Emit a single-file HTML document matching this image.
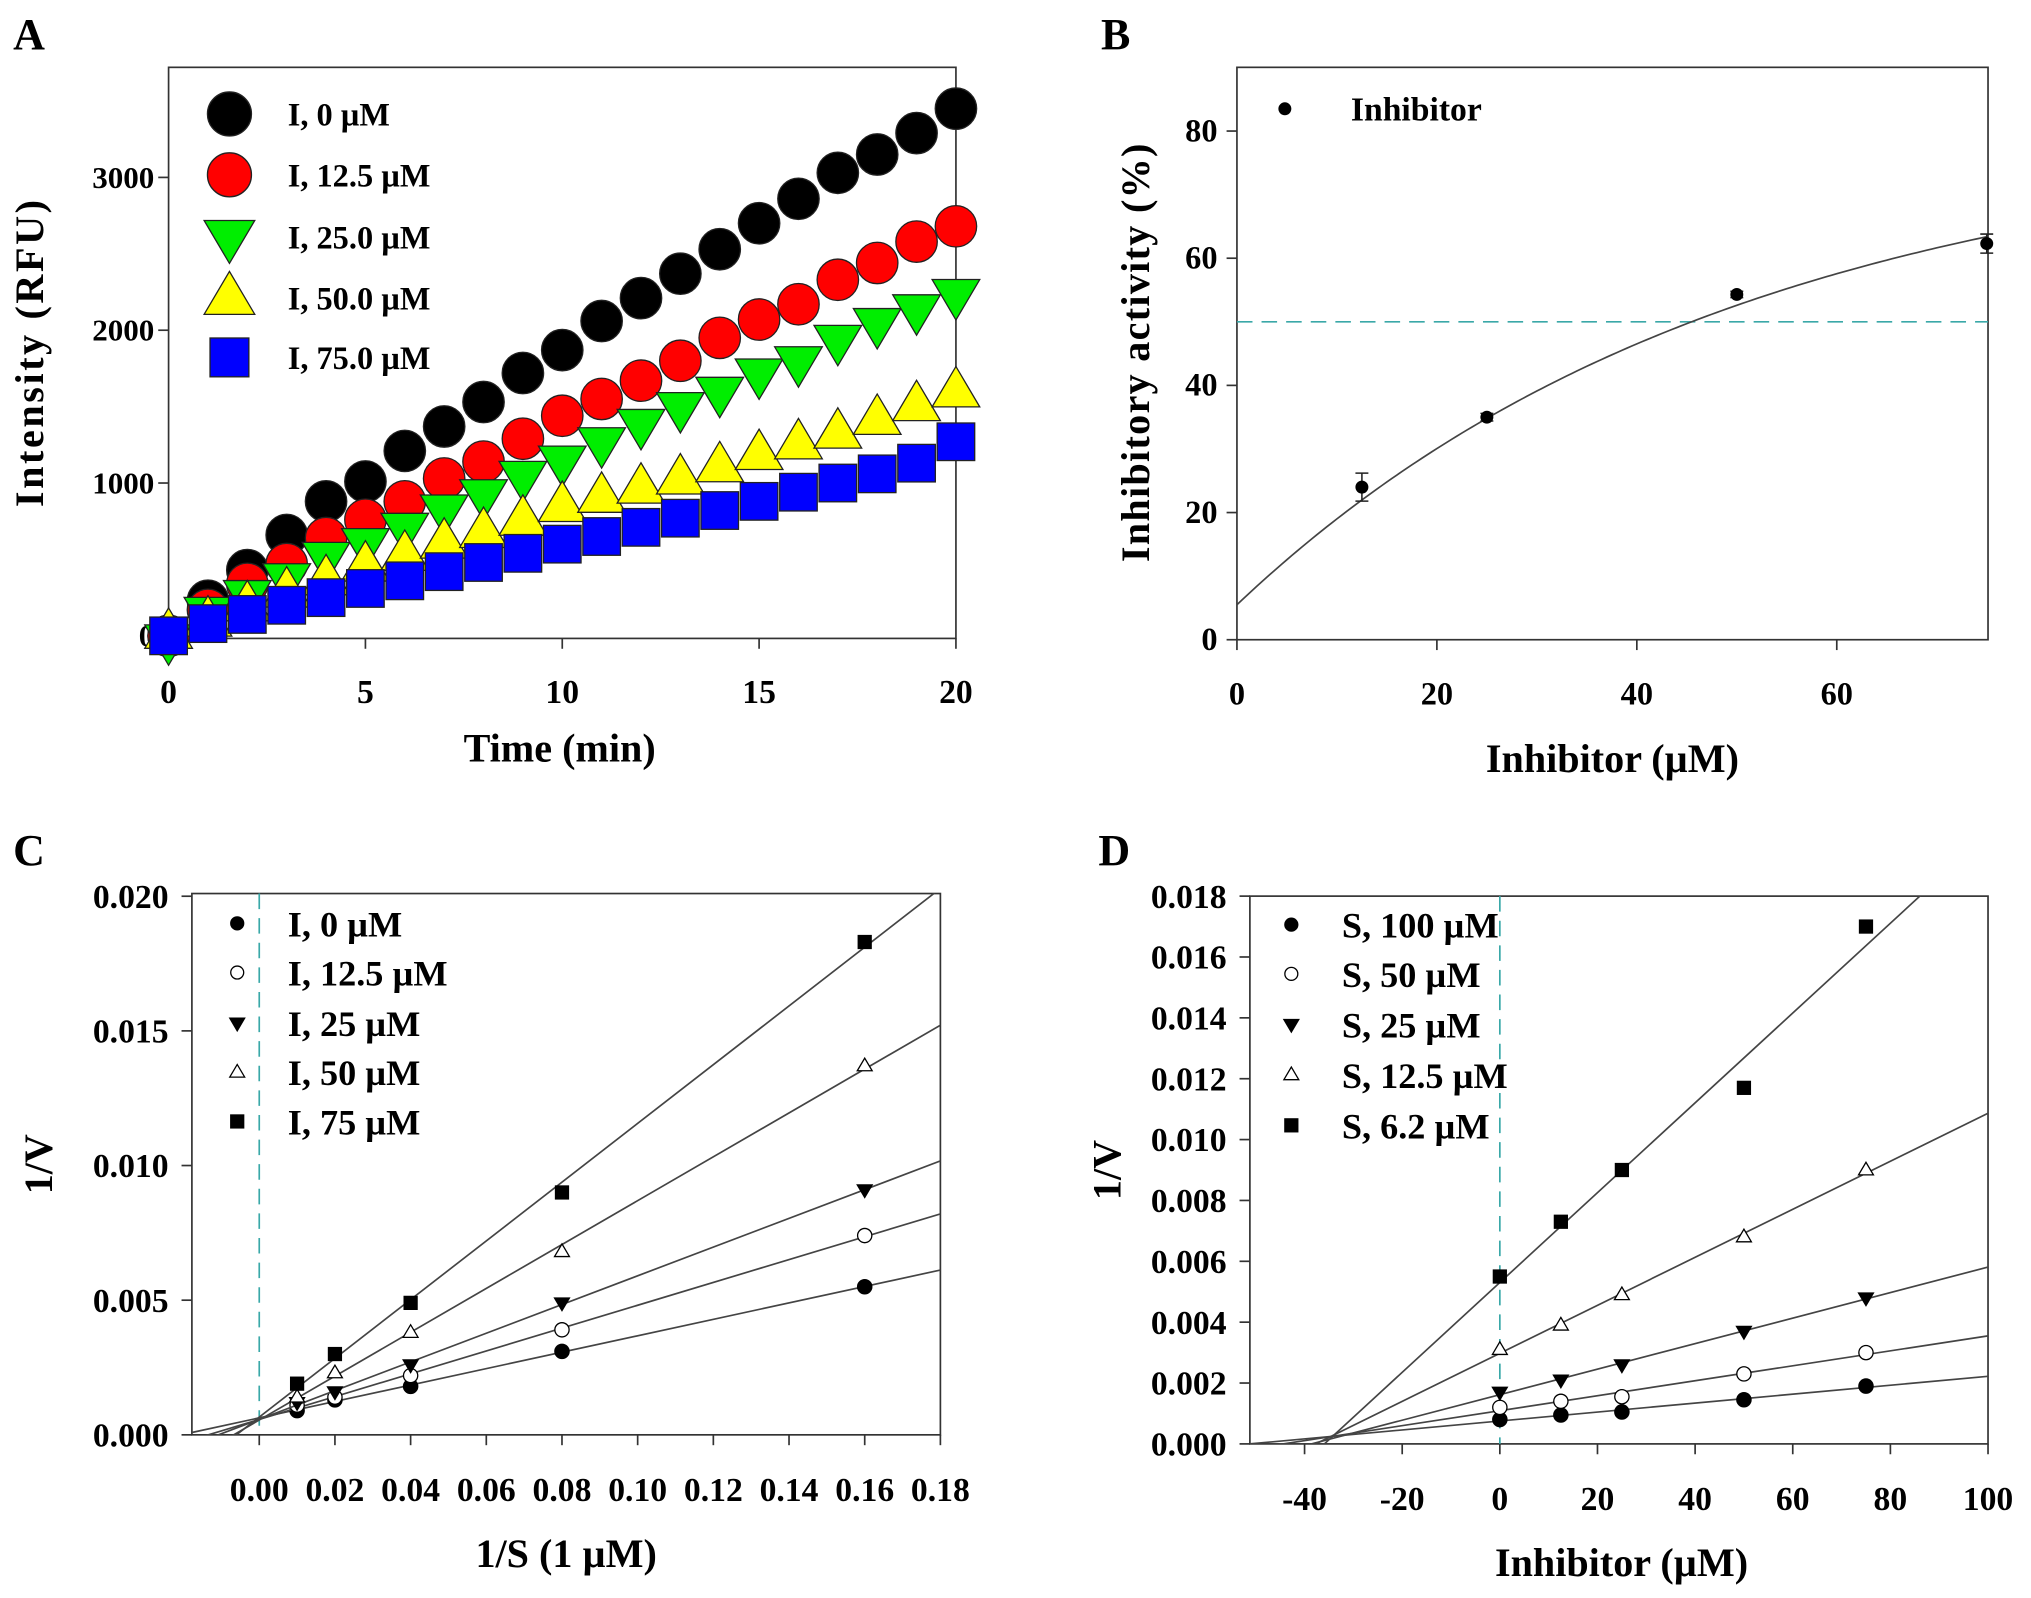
<!DOCTYPE html>
<html><head><meta charset="utf-8"><title>Enzyme inhibition kinetics</title>
<style>
html,body{margin:0;padding:0;background:#fff;}
svg{display:block;}
text{font-family:"Liberation Serif",serif;font-weight:bold;fill:#000;}
</style></head>
<body>
<svg id="fig" width="2031" height="1598" viewBox="0 0 1568 1234" xmlns="http://www.w3.org/2000/svg"></svg>
<script>
// ---------- Panel A data ----------
const aTimes = [0,1,2,3,4,5,6,7,8,9,10,11,12,13,14,15,16,17,18,19,20];
const aI0   = [0,230,430,660,880,1010,1210,1370,1530,1720,1870,2060,2210,2370,2530,2700,2860,3030,3150,3290,3450];
const aI125 = [0,170,340,470,640,760,880,1030,1140,1290,1440,1550,1670,1800,1950,2070,2170,2330,2440,2580,2680];
const aI25  = [-30,150,260,370,510,600,700,820,920,1040,1140,1260,1380,1490,1590,1710,1790,1930,2040,2130,2230];
const aI50  = [20,100,200,290,370,460,530,610,680,760,850,910,970,1030,1110,1190,1260,1330,1420,1510,1600];
const aI75  = [0,80,140,200,250,310,360,420,480,540,600,650,710,770,820,880,940,1000,1060,1130,1270];
const aLabels = ["I, 0 µM","I, 12.5 µM","I, 25.0 µM","I, 50.0 µM","I, 75.0 µM"];
const aXTicks = [0,5,10,15,20];
const aYTicks = [0,1000,2000,3000];
// ---------- Panel B data ----------
const bConc = [12.5,25,50,75];
const bAct  = [24,35,54.3,62.3];
const bErr  = [2.2,0.6,0.5,1.5];
const bFit  = [80,74.5,0.02]; // a - b*exp(-k x)
const bHalf = [50];
const bXTicks = [0,20,40,60];
const bYTicks = [0,20,40,60,80];
// ---------- Panel C data ----------
const cX = [0.01,0.02,0.04,0.08,0.16];
const cI0   = [0.0009,0.0013,0.0018,0.0031,0.0055];
const cI125 = [0.0011,0.0014,0.0022,0.0039,0.0074];
const cI25  = [0.0012,0.0016,0.0026,0.0049,0.0091];
const cI50  = [0.0014,0.0023,0.0038,0.0068,0.0137];
const cI75  = [0.0019,0.0030,0.0049,0.0090,0.0183];
const cLabels = ["I, 0 µM","I, 12.5 µM","I, 25 µM","I, 50 µM","I, 75 µM"];
const cXTicks = ["0.00","0.02","0.04","0.06","0.08","0.10","0.12","0.14","0.16","0.18"];
const cYTicks = ["0.000","0.005","0.010","0.015","0.020"];
// ---------- Panel D data ----------
const dX = [0,12.5,25,50,75];
const dS100 = [0.0008,0.00095,0.00105,0.00145,0.0019];
const dS50  = [0.0012,0.0014,0.00155,0.0023,0.0030];
const dS25  = [0.0017,0.0021,0.0026,0.0037,0.0048];
const dS125 = [0.0031,0.0039,0.0049,0.0068,0.0090];
const dS62  = [0.0055,0.0073,0.0090,0.0117,0.0170];
const dLabels = ["S, 100 µM","S, 50 µM","S, 25 µM","S, 12.5 µM","S, 6.2 µM"];
const dXTicks = ["-40","-20","0","20","40","60","80","100"];
const dYTicks = ["0.000","0.002","0.004","0.006","0.008","0.010","0.012","0.014","0.016","0.018"];

const NS="http://www.w3.org/2000/svg";
const svg=document.getElementById('fig');
function mk(tag,attrs,parent){const e=document.createElementNS(NS,tag);for(const k in attrs)e.setAttribute(k,attrs[k]);(parent||svg).appendChild(e);return e;}
function txt(s,x,y,size,anchor,parent){const t=mk('text',{x:x,y:y,'font-size':size,'text-anchor':anchor||'start'},parent);t.textContent=s;return t;}
function linfit(xs,ys){const n=xs.length;let sx=0,sy=0,sxx=0,sxy=0;for(let i=0;i<n;i++){sx+=xs[i];sy+=ys[i];sxx+=xs[i]*xs[i];sxy+=xs[i]*ys[i];}const m=(n*sxy-sx*sy)/(n*sxx-sx*sx);return [m,(sy-m*sx)/n];}
function marker(g,shape,cx,cy,r,fill,stroke,sw){
  let e;
  if(shape==='circle') e=mk('circle',{cx:cx,cy:cy,r:r,fill:fill,stroke:stroke,'stroke-width':sw},g);
  else if(shape==='square') e=mk('rect',{x:cx-r,y:cy-r,width:2*r,height:2*r,fill:fill,stroke:stroke,'stroke-width':sw},g);
  else if(shape==='down') e=mk('polygon',{points:`${cx-r*1.15},${cy-r*0.75} ${cx+r*1.15},${cy-r*0.75} ${cx},${cy+r*1.2}`,fill:fill,stroke:stroke,'stroke-width':sw},g);
  else e=mk('polygon',{points:`${cx-r*1.15},${cy+r*0.75} ${cx+r*1.15},${cy+r*0.75} ${cx},${cy-r*1.2}`,fill:fill,stroke:stroke,'stroke-width':sw},g);
  return e;
}

// ================= Panel A =================
(function(){
  const g=mk('g',{});
  
  
  const X=v=>130+v*(608/20), Y=v=>491-v*0.118;
  const L=txt('A',10,38,34,'start',g);
  
  
  const box=mk('rect',{x:130,y:52,width:608,height:441,fill:'none',stroke:'#333','stroke-width':1.3},g);
  
  
  aXTicks.forEach(t=>{mk('line',{x1:X(t),x2:X(t),y1:493,y2:501,stroke:'#333','stroke-width':1.3},g);
    const e=txt(String(t),X(t),543,26,'middle',g);
    
    });
  aYTicks.forEach(t=>{mk('line',{x1:130,x2:122,y1:Y(t),y2:Y(t),stroke:'#333','stroke-width':1.3},g);
    const e=txt(String(t),119,Y(t)+8,24,'end',g);
    
    });
  const xt=txt('Time (min)',432,588,31,'middle',g);
  
  
  const yt=txt('Intensity (RFU)',0,0,31,'middle',g);
  yt.setAttribute('transform','translate(33,272) rotate(-90)');
  yt.setAttribute('letter-spacing','2');
  
  
  [[aI0,'circle','#000'],[aI125,'circle','#ff0000'],[aI25,'down','#00ee00'],[aI50,'up','#ffff00'],[aI75,'square','#0000ff']].forEach((s,si)=>{
    const sg=mk('g',{},g);
    
    
    aTimes.forEach((t,i)=>{const m=marker(sg,s[1],X(t),Y(s[0][i]),s[1]==='square'?14.5:16,s[2],'#222',1);
      
      });
  });
  const ly=[88,135,183,230,276];
  [['circle','#000'],['circle','#ff0000'],['down','#00ee00'],['up','#ffff00'],['square','#0000ff']].forEach((s,i)=>{
    const lg=mk('g',{},g);
    
    
    marker(lg,s[0],177,ly[i],s[0]==='square'?15:17,s[1],'#222',1);
    txt(aLabels[i],222,ly[i]+9,25,'start',lg);
  });
})();

// ================= Panel B =================
(function(){
  const g=mk('g',{});
  
  
  const X=v=>955+v*7.72, Y=v=>494-v*4.91;
  const L=txt('B',850,38,34,'start',g);
  
  
  const box=mk('rect',{x:955,y:52,width:580,height:442,fill:'none',stroke:'#333','stroke-width':1.3},g);
  
  
  bXTicks.forEach(t=>{mk('line',{x1:X(t),x2:X(t),y1:494,y2:502,stroke:'#333','stroke-width':1.3},g);
    const e=txt(String(t),X(t),544,25,'middle',g);
    
    });
  bYTicks.forEach(t=>{mk('line',{x1:955,x2:947,y1:Y(t),y2:Y(t),stroke:'#333','stroke-width':1.3},g);
    const e=txt(String(t),940,Y(t)+8,25,'end',g);
    
    });
  const xt=txt('Inhibitor (µM)',1245,596,31,'middle',g);
  
  
  const yt=txt('Inhibitory activity (%)',0,0,31,'middle',g);
  yt.setAttribute('transform','translate(887,272) rotate(-90)');
  yt.setAttribute('letter-spacing','1');
  
  
  const hl=mk('line',{x1:955,x2:1535,y1:Y(bHalf[0]),y2:Y(bHalf[0]),stroke:'#3aa8a8','stroke-width':1.3,'stroke-dasharray':'12,7'},g);
  
  
  let d='';for(let v=0;v<=75;v+=0.5){const y=bFit[0]-bFit[1]*Math.exp(-bFit[2]*v);d+=(v?'L':'M')+X(v).toFixed(2)+','+Y(y).toFixed(2);}
  const fc=mk('path',{d:d,fill:'none',stroke:'#444','stroke-width':1.3},g);
  
  
  bConc.forEach((c,i)=>{
    const eb=mk('path',{d:`M${X(c)},${Y(bAct[i]-bErr[i])}V${Y(bAct[i]+bErr[i])}M${X(c)-5},${Y(bAct[i]-bErr[i])}h10M${X(c)-5},${Y(bAct[i]+bErr[i])}h10`,stroke:'#222','stroke-width':1.2,fill:'none'},g);
    
    
    const p=mk('circle',{cx:X(c),cy:Y(bAct[i]),r:5,fill:'#000'},g);
    
    
  });
  const lg=mk('g',{},g);
  
  
  mk('circle',{cx:992,cy:84,r:5,fill:'#000'},lg);
  txt('Inhibitor',1043,93,26,'start',lg);
})();

// ============ Lineweaver-type panels ============
function linePanel(o){
  const g=mk('g',{});
  
  
  const L=txt(o.letter,o.lx,668,34,'start',g);
  
  
  const X=v=>o.x0+(v-o.xmin)/(o.xmax-o.xmin)*(o.x1-o.x0), Y=v=>o.y0-(v-o.ymin)/(o.ymax-o.ymin)*(o.y0-o.y1);
  const cid=o.name+'-clip';
  const cp=mk('clipPath',{id:cid},g);mk('rect',{x:o.x0,y:o.y1,width:o.x1-o.x0,height:o.y0-o.y1},cp);
  const box=mk('rect',{x:o.x0,y:o.y1,width:o.x1-o.x0,height:o.y0-o.y1,fill:'none',stroke:'#333','stroke-width':1.3},g);
  
  
  o.xt.forEach(s=>{const v=parseFloat(s);mk('line',{x1:X(v),x2:X(v),y1:o.y0,y2:o.y0+8,stroke:'#333','stroke-width':1.3},g);
    const e=txt(s,X(v),o.y0+51,26,'middle',g);
    
    });
  o.yt.forEach(s=>{const v=parseFloat(s);mk('line',{x1:o.x0,x2:o.x0-8,y1:Y(v),y2:Y(v),stroke:'#333','stroke-width':1.3},g);
    const e=txt(s,o.x0-18,Y(v)+9,26,'end',g);
    
    });
  const xt=txt(o.xtitle,o.xtx,o.y0+102,31,'middle',g);
  
  
  const yt=txt('1/V',0,0,31,'middle',g);
  yt.setAttribute('transform',`translate(${o.ytx},${(o.y0+o.y1)/2}) rotate(-90)`);
  
  
  const vl=mk('line',{x1:X(0),x2:X(0),y1:o.y1,y2:o.y0,stroke:'#3aa8a8','stroke-width':1.3,'stroke-dasharray':'12,7'},g);
  
  
  const shapes=[['circle','#000'],['circle','#fff'],['down','#000'],['up','#fff'],['square','#000']];
  o.series.forEach((ys,si)=>{
    const f=linfit(o.xs,ys);
    const fl=mk('line',{x1:X(o.xmin),y1:Y(f[1]+f[0]*o.xmin),x2:X(o.xmax),y2:Y(f[1]+f[0]*o.xmax),stroke:'#444','stroke-width':1.3,'clip-path':`url(#${cid})`},g);
    
    
    o.xs.forEach((xv,i)=>{const m=marker(g,shapes[si][0],X(xv),Y(ys[i]),shapes[si][0]==='square'?5:(shapes[si][0]==='circle'?5.5:5),shapes[si][1],'#000',1);
      
      });
    const lg=mk('g',{},g);
    
    
    marker(lg,shapes[si][0],o.legx,o.legy[si],5,shapes[si][1],'#000',1);
    txt(o.labels[si],o.legx+39,o.legy[si]+10,28,'start',lg);
  });
}
linePanel({name:'panel-c',letter:'C',lx:10,x0:148,x1:726,y0:1108,y1:690,xmin:-0.0178,xmax:0.18,ymin:0,ymax:0.0201,
  xs:cX,series:[cI0,cI125,cI25,cI50,cI75],labels:cLabels,xt:cXTicks,yt:cYTicks,xtitle:'1/S (1 µM)',xtx:437,ytx:40,
  legx:183,legy:[713,751,790,828,866]});
linePanel({name:'panel-d',letter:'D',lx:848,x0:965,x1:1535,y0:1115,y1:692,xmin:-51.2,xmax:100,ymin:0,ymax:0.018,
  xs:dX,series:[dS100,dS50,dS25,dS125,dS62],labels:dLabels,xt:dXTicks,yt:dYTicks,xtitle:'Inhibitor (µM)',xtx:1252,ytx:865,
  legx:997,legy:[714,752,791,830,869]});
</script>
</body></html>
